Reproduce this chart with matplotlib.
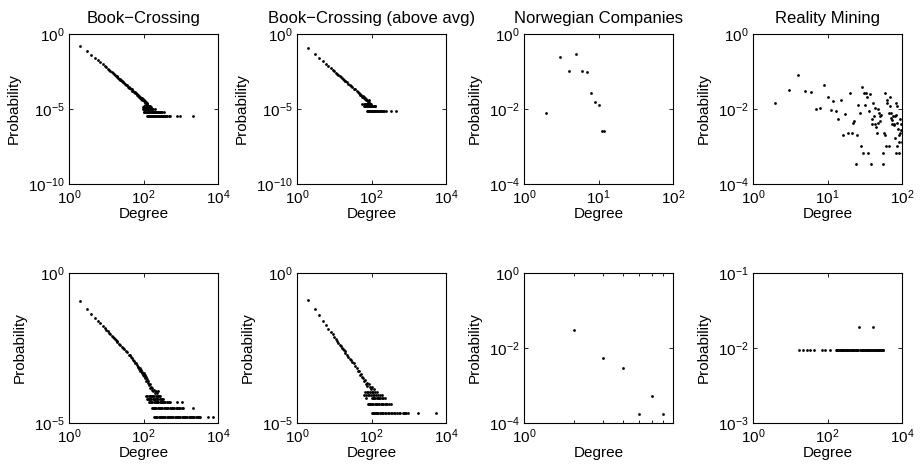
import numpy as np
import matplotlib.pyplot as plt

plt.rcParams['font.family'] = ['Liberation Sans', 'DejaVu Sans']
plt.rcParams['mathtext.fontset'] = 'custom'
plt.rcParams['mathtext.rm'] = 'Liberation Sans'
plt.rcParams['mathtext.it'] = 'Liberation Sans:italic'
plt.rcParams['mathtext.bf'] = 'Liberation Sans:bold'

# degree distributions: degree -> number of nodes, divided by n to get probability
# Book-Crossing, top row
bc1_n = 295000
bc1_deg = [2, 3, 4, 5, 6, 7, 8, 9, 10, 11, 12, 13, 14, 15, 16, 17, 18, 19, 20, 21, 22, 23, 24, 25, 26, 27, 28, 29, 30,
           32, 34, 36, 38, 40, 42, 44, 46, 48, 50,
           52, 55, 58, 60, 63, 65, 68, 70, 73, 75, 78, 80, 83, 85, 88, 90, 93, 95, 98, 100,
           104, 107, 110, 114, 118, 122, 126]
bc1_cnt = [43700, 20500, 11900, 7870, 5600, 3940, 2940, 2265, 1800, 1456, 1203, 1009, 857, 736, 639, 558, 493, 438,
           391, 351, 317, 288, 262, 245, 214, 205, 182, 177, 156,
           143, 118, 110, 92, 88, 73, 71, 60, 59, 49,
           50, 40, 39, 33, 34, 27, 29, 23, 24, 19, 22, 17, 19, 14, 17, 12, 15, 11, 13, 10,
           12, 8, 10, 7, 9, 6, 8]
bc1_levels = {
    5: [102, 109, 116, 124, 133, 139, 151],
    4: [97, 105, 112, 120, 129, 137, 145, 163],
    3: [99, 103, 111, 117, 127, 135, 141, 149, 157, 168, 181, 199],
    2: [101, 106, 113, 119, 128, 136, 143, 150, 158, 166, 175, 184, 194, 205, 216, 229, 241, 255, 270, 290, 318, 355],
    1: [125, 131, 138, 146, 153, 161, 170, 178, 187, 197, 208, 219, 231, 244, 258, 272, 289, 306, 327, 349, 376,
        405, 438, 474, 515, 790, 950, 2130],
}

# Book-Crossing (above avg), top row
bc2_n = 135000
bc2_deg = [2, 3, 4, 5, 6, 7, 8, 9, 10, 11, 12, 13, 14, 15, 16, 17, 18, 19, 20,
           22, 24, 26, 28, 30, 33, 36, 40, 43, 45, 48, 50, 53, 55, 58, 60,
           62, 64, 66, 68, 71, 73, 77, 82, 85, 88]
bc2_cnt = [15000, 6150, 3270, 2000, 1340, 953, 710, 548, 434, 352, 291, 244, 207, 178, 155, 135, 119, 106, 95,
           79, 61, 55, 43, 40, 30, 27, 20, 18, 15, 14, 11, 12, 9, 10, 8,
           7, 9, 6, 7, 5, 6, 5, 4, 5, 4]
bc2_levels = {
    3: [56, 63, 67, 72, 75, 79, 84, 91, 97],
    2: [61, 65, 69, 74, 78, 81, 86, 90, 94, 99, 104, 110, 116, 122, 128],
    1: [76, 80, 83, 87, 92, 96, 101, 107, 113, 119, 125, 131, 139, 147, 156, 166, 177, 190, 204, 220, 240, 340, 455],
}

# Norwegian Companies, top row
no1_n = 385
no1_deg = [2, 3, 4, 5, 6, 7, 8, 9, 10, 11, 12]
no1_cnt = [3, 92, 40, 110, 40, 38, 10, 6, 5, 1, 1]

# Reality Mining, top row
rm1_n = 2985
rm1_deg = [2, 3, 4, 5, 6, 7, 8, 9, 10, 11, 12, 13, 14, 15, 16, 17,
           19, 20, 21, 22, 23, 24, 25, 26, 27, 28, 29, 30, 31, 32, 33, 34, 35, 36, 37, 38, 39, 40, 41, 42, 43,
           44, 45, 46, 47, 48, 49, 50, 51,
           53, 55, 56, 57, 59, 60, 61, 62, 63,
           66, 67, 69, 70, 71, 72, 73, 74,
           76, 77, 78, 80, 81, 82, 83, 84, 85, 86, 87, 88,
           90, 91, 92, 94, 95, 96, 98, 99]
rm1_cnt = [42, 96, 241, 92, 86, 29, 31, 130, 61, 28, 48, 27, 16, 53, 6, 22,
           7, 78, 7, 13, 14, 1, 6, 38, 23, 3, 117, 2, 78, 38, 78, 63, 2, 27, 75, 1, 12, 16, 42, 19, 12,
           32, 10, 7, 29, 13, 23, 20, 14,
           21, 2, 1, 7, 78, 6, 3, 53, 42,
           3, 23, 63, 35, 23, 17, 12, 15,
           20, 12, 11, 19, 5, 2, 42, 21, 3, 35, 13, 9,
           6, 4, 2, 7, 16, 12, 8, 4]

# Book-Crossing, bottom row
bc5_n = 61500
bc5_deg = [2, 3, 4, 5, 6, 7, 8, 9, 10, 11, 12, 13, 14, 15, 16, 17, 18, 19, 20,
           22, 24, 26, 28, 30, 33, 36, 40, 43, 46, 50, 53, 56, 60, 63, 66, 70, 73, 76, 80, 83, 86, 90, 93, 96, 100,
           104, 108, 112, 116, 120, 125, 130, 135, 140, 146, 152, 158, 165, 172, 180, 190, 200, 215, 230, 250]
bc5_cnt = [7070, 3800, 2700, 2000, 1585, 1285, 1072, 914, 791, 695, 618, 553, 501, 456, 418, 385, 356, 330, 308,
           271, 240, 218, 200, 180, 158, 143, 118, 112, 95, 88, 76, 72, 61, 60, 52, 47, 44, 38, 41, 33, 36, 29, 32,
           25, 28,
           22, 25, 19, 21, 16, 18, 13, 15, 11, 12, 9, 10, 8, 9, 7, 8, 6, 7, 6, 7]
bc5_levels = {
    5: [118, 127, 137, 148, 157, 169, 182, 196, 211, 228, 246, 265, 285],
    4: [122, 131, 141, 153, 163, 175, 188, 203, 218, 234, 252, 271, 292, 315, 340],
    3: [143, 151, 162, 174, 187, 201, 216, 232, 248, 269, 289, 311, 335, 360, 387, 417, 448, 482, 514, 778, 1060],
    2: [166, 178, 192, 207, 223, 240, 258, 278, 299, 322, 347, 373, 402, 433, 466, 502, 540, 581, 626, 674, 726,
        781, 841, 905, 975, 1050, 1130, 2090],
    1: [191, 205, 220, 236, 253, 272, 293, 313, 336, 361, 388, 416, 447, 480, 515, 553, 594, 638, 685, 736, 790,
        849, 912, 980, 1052, 1135, 1215, 1305, 1400, 1505, 1620, 1740, 1870, 2010, 2160, 2320, 2490, 2680, 2880,
        3090, 3290, 5500, 7200],
}

# Book-Crossing (above avg), bottom row
bc6_n = 45000
bc6_deg = [2, 3, 4, 5, 6, 7, 8, 9, 10, 11, 12, 13, 14, 15, 16, 17, 18, 19, 20,
           22, 24, 26, 28, 30, 33, 36, 40, 43, 46, 50, 53, 56, 60, 63, 66, 70, 74, 78, 85, 90, 95, 105, 115]
bc6_cnt = [5580, 2900, 1800, 1120, 817, 624, 493, 402, 334, 283, 243, 211, 185, 164, 147, 132, 119, 109, 99,
           84, 72, 60, 56, 47, 44, 35, 31, 24, 25, 18, 19, 15, 14, 11, 12, 9, 10, 8, 9, 7, 6, 7, 6]
bc6_levels = {
    5: [68, 76, 83, 92, 100, 110, 125, 140],
    4: [64, 72, 80, 88, 97, 108, 120, 135, 150, 170, 195],
    3: [71, 101, 112, 118, 127, 137, 148, 160, 173, 188, 205, 230],
    2: [82, 87, 93, 99, 106, 113, 121, 130, 141, 151, 163, 176, 190, 206, 224, 245, 268, 295, 333],
    1: [102, 109, 116, 124, 132, 143, 153, 165, 178, 192, 208, 226, 246, 270, 297, 327, 360, 398, 440, 490, 540,
        582, 687, 740, 800, 865, 933, 1740, 5400],
}

# Norwegian Companies, bottom row
no2_n = 5750
no2_deg = [2, 3, 4, 5, 6, 7]
no2_cnt = [172, 32, 17, 1, 3, 1]

# Reality Mining, bottom row
rm2_n = 105
rm2_levels = {
    2: [700, 1630],
    1: [17, 22, 28, 34, 43, 70, 86, 117, 166, 175, 184, 193, 204, 214, 226, 238, 250, 263, 277, 292, 307, 324,
        341, 359, 378, 398, 419, 441, 465, 489, 515, 543, 572, 602, 634, 668, 741, 780, 822, 865, 911, 960, 1011,
        1065, 1121, 1181, 1244, 1310, 1380, 1453, 1530, 1698, 1788, 1883, 1983, 2089, 2200, 2317, 2440, 2570,
        2707, 2851, 3000, 3150],
}

titles = ['Book\u2212Crossing', 'Book\u2212Crossing (above avg)', 'Norwegian Companies', 'Reality Mining']


def dist(deg, cnt, n, levels=None):
    d = list(deg)
    c = list(cnt)
    for k, lst in (levels or {}).items():
        d += lst
        c += [k] * len(lst)
    return np.array(d, float), np.array(c, float) / n


panels = [
    (dist(bc1_deg, bc1_cnt, bc1_n, bc1_levels), (1, 1e4), (1e-10, 1), [1, 1e2, 1e4], [1e-10, 1e-5, 1]),
    (dist(bc2_deg, bc2_cnt, bc2_n, bc2_levels), (1, 1e4), (1e-10, 1), [1, 1e2, 1e4], [1e-10, 1e-5, 1]),
    (dist(no1_deg, no1_cnt, no1_n), (1, 100), (1e-4, 1), [1, 10, 100], [1e-4, 1e-2, 1]),
    (dist(rm1_deg, rm1_cnt, rm1_n), (1, 100), (1e-4, 1), [1, 10, 100], [1e-4, 1e-2, 1]),
    (dist(bc5_deg, bc5_cnt, bc5_n, bc5_levels), (1, 1e4), (1e-5, 1), [1, 1e2, 1e4], [1e-5, 1]),
    (dist(bc6_deg, bc6_cnt, bc6_n, bc6_levels), (1, 1e4), (1e-5, 1), [1, 1e2, 1e4], [1e-5, 1]),
    (dist(no2_deg, no2_cnt, no2_n), (1, 8), (1e-4, 1), [1], [1e-4, 1e-2, 1]),
    (dist([], [], rm2_n, rm2_levels), (1, 1e4), (1e-3, 1e-1), [1, 1e2, 1e4], [1e-3, 1e-2, 1e-1]),
]

fig = plt.figure(figsize=(9.21, 4.72), dpi=100)
W, H = 921, 472
lefts = [69, 297, 524, 753]
tops = [34, 273]

for i, ((x, y), xl, yl, xt, yt) in enumerate(panels):
    r, c = divmod(i, 4)
    ax = fig.add_axes([lefts[c] / W, 1 - (tops[r] + 150) / H, 149 / W, 150 / H])
    ax.plot(x, y, 'o', color='k', ms=2.0, mew=0)
    ax.set_xscale('log')
    ax.set_yscale('log')
    ax.set_xlim(xl)
    ax.set_ylim(yl)
    ax.set_xticks(xt)
    ax.set_yticks(yt)
    ax.minorticks_off()
    if i == 6:
        ax.set_xticks([2, 3, 4, 5, 6, 7], minor=True)
        ax.xaxis.set_minor_formatter(plt.NullFormatter())
    ax.tick_params(which='both', direction='in', top=True, right=True, length=3, width=0.6,
                   labelsize=11, pad=3)
    ax.tick_params(which='minor', length=2)
    for s in ax.spines.values():
        s.set_linewidth(0.8)
    ax.set_xlabel('Degree', fontsize=11, labelpad=0)
    ax.set_ylabel('Probability', fontsize=11, labelpad=5)
    if r == 0:
        ax.set_title(titles[c], fontsize=12, pad=8)

fig.savefig('out.png', dpi=100)
